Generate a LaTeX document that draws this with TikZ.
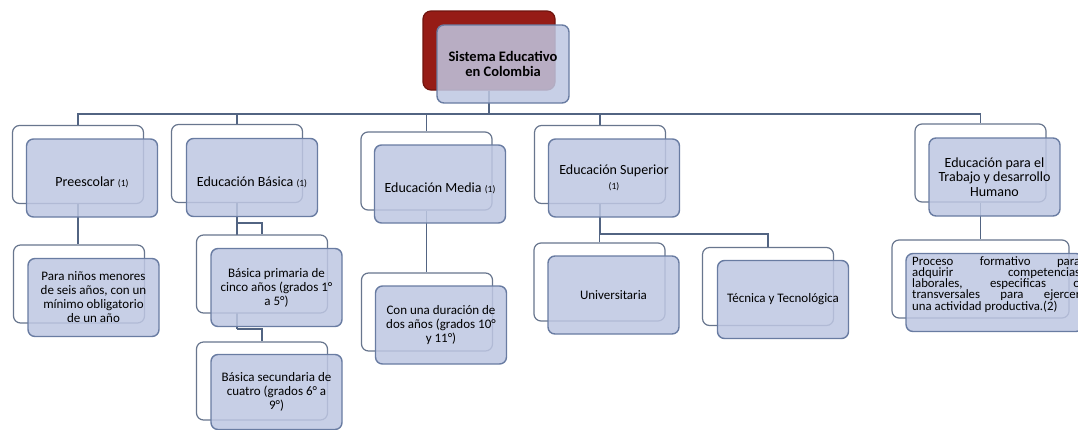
\documentclass[tikz,border=0pt]{standalone}
\usepackage{fontspec}
\setmainfont{Carlito}
\definecolor{boxfill}{RGB}{190,199,226}
\definecolor{boxedge}{RGB}{105,124,162}
\definecolor{framecol}{RGB}{104,118,142}
\definecolor{conncol}{RGB}{82,100,130}
\definecolor{topred}{RGB}{150,28,22}
\definecolor{topredge}{RGB}{112,20,14}
\newcommand{\lvtitle}{\fontsize{14.5}{15}\selectfont\bfseries}
\newcommand{\lvone}{\fontsize{14}{14.5}\selectfont}
\newcommand{\lvtwo}{\fontsize{13}{14}\selectfont}
\newcommand{\refnum}[1]{{\fontsize{9.5}{10}\selectfont #1}}
\pgfdeclarelayer{paper}
\pgfdeclarelayer{wires}
\pgfsetlayers{paper,wires,main}
\begin{document}
\begin{tikzpicture}[x=1pt,y=-1pt,
  backbox/.style={draw=framecol, line width=1.2pt, fill=white, rounded corners=7pt,
    minimum width=131pt, minimum height=78pt, inner sep=0pt},
  frontbox/.style={draw=boxedge, line width=1.4pt, fill=boxfill, fill opacity=0.85,
    text opacity=1, rounded corners=7pt, minimum width=131pt, minimum height=78pt,
    inner sep=2pt, align=center, text=black},
  lowtext/.style={text height=17pt, text depth=0pt},
  redbox/.style={draw=topredge, line width=1.2pt, fill=topred, rounded corners=8pt,
    minimum width=132pt, minimum height=79pt, inner sep=0pt},
  conn/.style={draw=conncol, line width=1.4pt}]
\useasboundingbox (0,0) rectangle (1078,429);
\begin{pgfonlayer}{paper}
  \fill[white] (0,0) rectangle (1078,429);
\end{pgfonlayer}

% root
\node[redbox] (top) at (489,50.5) {};
\node[frontbox, minimum width=132pt, font=\lvtitle] (fTop) at (503,64)
  {Sistema Educativo\\en Colombia};

% first level: outline frames
\node[backbox] (bPre) at (78,164.5) {};
\node[backbox] (bBas) at (237,163.5) {};
\node[backbox] (bMed) at (426.5,171) {};
\node[backbox] (bSup) at (600,164.5) {};
\node[backbox] (bTra) at (980.5,163) {};
% first level: filled boxes
\node[frontbox, lowtext, font=\lvone] (fPre) at (92,178) {Preescolar \refnum{(1)}};
\node[frontbox, lowtext, font=\lvone] (fBas) at (252,177.5) {Educación Básica \refnum{(1)}};
\node[frontbox, lowtext, font=\lvone] (fMed) at (440,184) {Educación Media \refnum{(1)}};
\node[frontbox, font=\lvone] (fSup) at (614,178) {Educación Superior\\\refnum{(1)}};
\node[frontbox, font=\lvone] (fTra) at (994.5,177)
  {Educación para el\\Trabajo y desarrollo\\Humano};

% second level: outline frames
\node[backbox] (bPreC) at (79,284) {};
\node[backbox] (bPri) at (262,274) {};
\node[backbox] (bSec) at (262,381) {};
\node[backbox] (bMedC) at (427,312) {};
\node[backbox] (bUni) at (599.5,282) {};
\node[backbox] (bTec) at (768,286.5) {};
\node[backbox, minimum width=177pt] (bTraC) at (980.5,279) {};
% second level: filled boxes
\node[frontbox, font=\lvtwo] (fPreC) at (93.5,297.5)
  {Para niños menores\\de seis años, con un\\mínimo obligatorio\\de un año};
\node[frontbox, font=\lvtwo] (fPri) at (276.5,287.5)
  {Básica primaria de\\cinco años (grados 1°\\a 5°)};
\node[frontbox, font=\lvtwo, minimum height=75pt] (fSec) at (276.5,392)
  {Básica secundaria de\\cuatro (grados 6° a\\9°)};
\node[frontbox, font=\lvtwo] (fMedC) at (441,325)
  {Con una duración de\\dos años (grados 10°\\y 11°)};
\node[frontbox, font=\lvtwo] (fUni) at (613.5,295) {Universitaria};
\node[frontbox, font=\lvtwo] (fTec) at (783,299.5) {Técnica y Tecnológica};
\node[frontbox, minimum width=177pt] (fTraC) at (994.5,292.5) {};
\node[anchor=north west, inner sep=0pt, font=\fontsize{12.8}{11}\selectfont] (tTraC) at (912,256)
  {\vbox{\hbox to 168pt{Proceso\hfill formativo\hfill para}
         \hbox to 168pt{adquirir\hfill competencias}
         \hbox to 168pt{laborales,\hfill especificas\hfill o}
         \hbox to 168pt{transversales\hfill para\hfill ejercer}
         \hbox{una actividad productiva.(2)}}};

% connectors, kept beneath the boxes
\coordinate (bus) at (0,114);
\coordinate (jPri) at (0,223);
\coordinate (jSec) at (0,329);
\coordinate (jSup) at (0,234);
\begin{pgfonlayer}{wires}
  \draw[conn] (top.south) -- (top.south |- bus);
  \draw[conn] (bPre.north) -- (bPre.north |- bus) -- (bTra.north |- bus) -- (bTra.north);
  \draw[conn] (bBas.north) -- (bBas.north |- bus);
  \draw[conn] (bMed.north) -- (bMed.north |- bus);
  \draw[conn] (bSup.north) -- (bSup.north |- bus);
  \draw[conn] (bPre.south) -- (bPre.south |- bPreC.north);
  \draw[conn] (bBas.south) -- (bBas.south |- jSec);
  \draw[conn] (bBas.south |- jPri) -| (bPri.north);
  \draw[conn] (bBas.south |- jSec) -| (bSec.north);
  \draw[conn] (bMed.south) -- (bMed.south |- bMedC.north);
  \draw[conn] (bSup.south) -- (bSup.south |- jSup);
  \draw[conn] (bUni.north) -- (bUni.north |- jSup) -- (bTec.north |- jSup) -- (bTec.north);
  \draw[conn] (bTra.south) -- (bTra.south |- bTraC.north);
\end{pgfonlayer}
\end{tikzpicture}
\end{document}
